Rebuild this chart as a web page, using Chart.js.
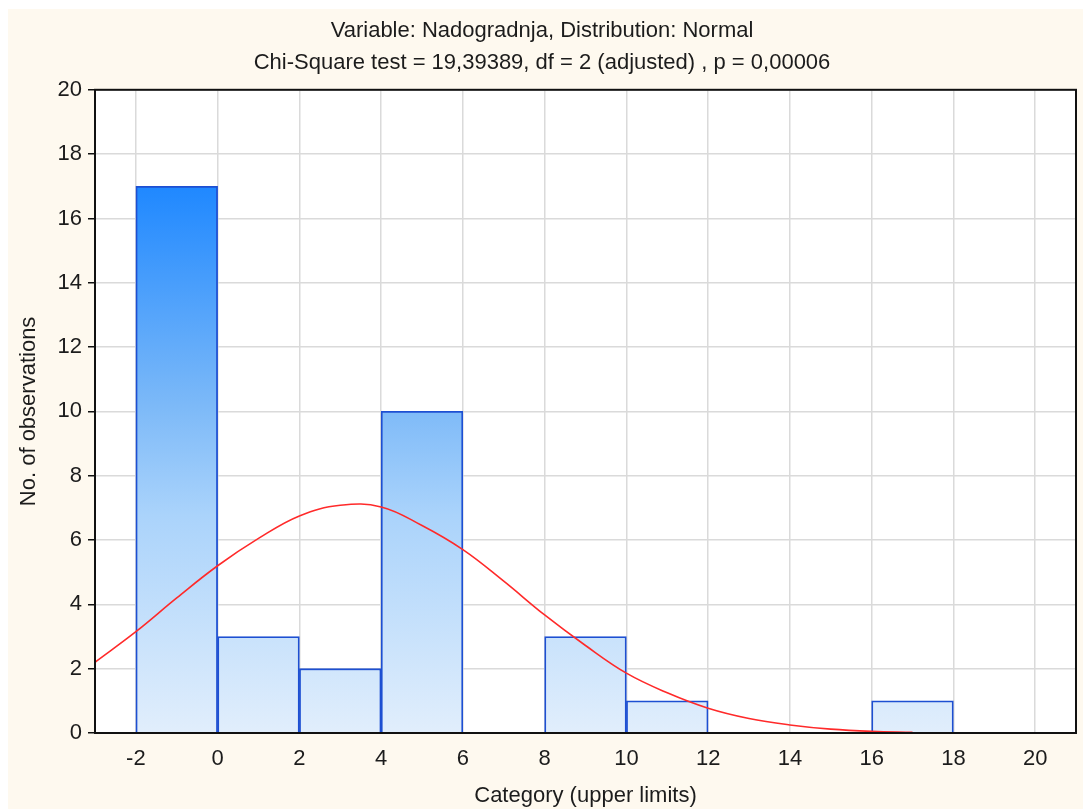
<!DOCTYPE html>
<html>
<head>
<meta charset="utf-8">
<script src="https://cdn.jsdelivr.net/npm/chart.js@4/dist/chart.umd.min.js"></script>
<style>
  html, body { margin: 0; padding: 0; background: #fff; }
  #wrap { position: absolute; left: 8px; top: 9px; width: 1075px; height: 800px; }
</style>
</head>
<body>
<div id="wrap"><canvas id="histo"></canvas></div>
<script>
// Histogram bins (upper limits) and counts
const upperLimits = [0, 2, 4, 6, 8, 10, 12, 14, 16, 18];
const counts = [17, 3, 2, 10, 0, 3, 1, 0, 0, 1];
const binWidth = 2;

// Expected normal curve
const curveX = [-3, -2, -1, 0, 1, 2, 3, 4, 5, 6, 7, 8, 9, 10, 11, 12, 13, 14, 15, 16, 17];
const curveY = [2.2, 3.15, 4.2, 5.2, 6.05, 6.75, 7.08, 7.03, 6.45, 5.7, 4.72, 3.67, 2.72, 1.86, 1.25, 0.77, 0.45, 0.25, 0.12, 0.05, 0.02];

const xTicks = [-2, 0, 2, 4, 6, 8, 10, 12, 14, 16, 18, 20];
const yTicks = [0, 2, 4, 6, 8, 10, 12, 14, 16, 18, 20];

const barPoints = upperLimits
  .map((u, i) => ({ x: u - binWidth / 2, y: counts[i] }))
  .filter((p) => p.y > 0);

const FONT = "'Liberation Sans', Arial, sans-serif";
const INK = "#1c1c1c";
const SIZE = 22;

const backdrop = {
  id: "backdrop",
  beforeDraw(chart) {
    const { ctx, chartArea: a } = chart;
    ctx.save();
    ctx.fillStyle = "#fef9ef";
    ctx.fillRect(0, 0, chart.width, chart.height);
    ctx.fillStyle = "#ffffff";
    ctx.fillRect(a.left, a.top, a.right - a.left, a.bottom - a.top);
    ctx.restore();
  },
  afterDraw(chart) {
    const { ctx, chartArea: a } = chart;
    ctx.save();
    ctx.strokeStyle = "#111";
    ctx.lineWidth = 2;
    ctx.strokeRect(a.left, a.top, a.right - a.left, a.bottom - a.top);
    ctx.restore();
  },
};

function barFill(context) {
  const chart = context.chart;
  const area = chart.chartArea;
  if (!area) return "#8fc3fa";
  const y = chart.scales.y;
  const g = chart.ctx.createLinearGradient(0, y.getPixelForValue(0), 0, y.getPixelForValue(17));
  g.addColorStop(0, "#e1eefc");
  g.addColorStop(0.4, "#aad3fb");
  g.addColorStop(0.6, "#7cb9f8");
  g.addColorStop(1, "#1f88ff");
  return g;
}

new Chart(document.getElementById("histo"), {
  data: {
    datasets: [
      {
        type: "line",
        data: curveX.map((x, i) => ({ x: x, y: curveY[i] })),
        borderColor: "#ff2a2a",
        borderWidth: 1.6,
        pointRadius: 0,
        tension: 0.4,
        fill: false,
        order: 0,
      },
      {
        type: "bar",
        data: barPoints,
        backgroundColor: barFill,
        borderColor: "#1d4fd2",
        borderWidth: 1.8,
        barPercentage: 1,
        categoryPercentage: 1,
        order: 1,
      },
    ],
  },
  options: {
    responsive: true,
    maintainAspectRatio: false,
    animation: false,
    layout: { padding: { left: 0, right: 7, top: 0, bottom: 0 } },
    plugins: {
      legend: { display: false },
      tooltip: { enabled: false },
      title: {
        display: true,
        text: [
          "Variable: Nadogradnja, Distribution: Normal",
          "Chi-Square test = 19,39389, df = 2 (adjusted) , p = 0,00006",
        ],
        color: INK,
        font: { family: FONT, size: SIZE, weight: "normal", lineHeight: 1.45 },
        padding: { top: 6, bottom: 11 },
      },
    },
    scales: {
      x: {
        type: "linear",
        min: -3,
        max: 21,
        offset: false,
        afterBuildTicks: (s) => { s.ticks = xTicks.map((v) => ({ value: v })); },
        afterFit: (s) => { s.height = 76; },
        grid: { color: "#dadada", lineWidth: 1.5, drawTicks: false, offset: false },
        border: { display: false },
        ticks: { color: INK, font: { family: FONT, size: SIZE }, padding: 13 },
        title: {
          display: true,
          text: "Category (upper limits)",
          color: INK,
          font: { family: FONT, size: SIZE },
          padding: { top: 0, bottom: 0 },
        },
      },
      y: {
        type: "linear",
        min: 0,
        max: 20,
        afterBuildTicks: (s) => { s.ticks = yTicks.map((v) => ({ value: v })); },
        afterFit: (s) => { s.width = 87; },
        grid: { color: "#dadada", lineWidth: 1.5, tickColor: "#111", tickLength: 7 },
        border: { display: false },
        ticks: { color: INK, font: { family: FONT, size: SIZE }, padding: 6 },
        title: {
          display: true,
          text: "No. of observations",
          color: INK,
          font: { family: FONT, size: SIZE },
          padding: { top: 8, bottom: 0 },
        },
      },
    },
  },
  plugins: [backdrop],
});
</script>
</body>
</html>
